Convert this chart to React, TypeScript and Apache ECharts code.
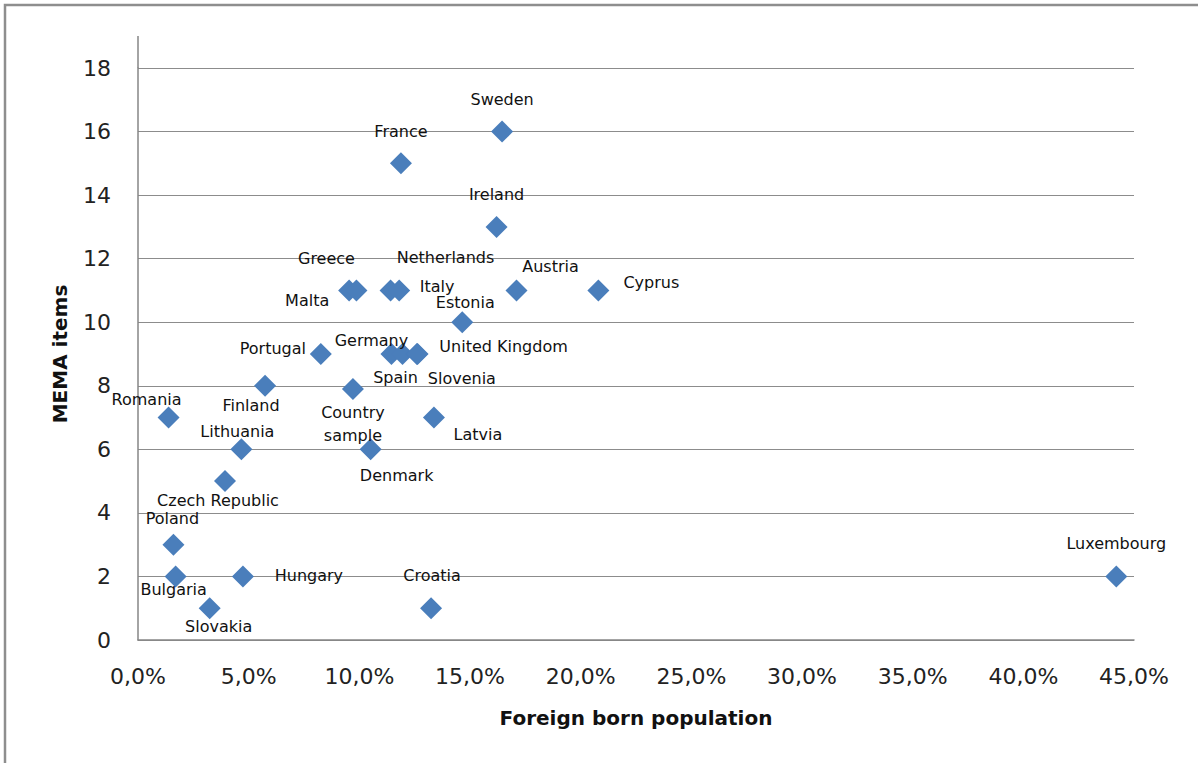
import React, { useEffect, useRef } from "react";
import * as echarts from "echarts";

const countries = [
  "Sweden", "France", "Ireland", "Malta", "Greece", "Netherlands", "Italy",
  "Austria", "Cyprus", "Estonia", "Portugal", "Germany", "Spain", "Slovenia",
  "United Kingdom", "Finland", "Country\nsample", "Romania", "Latvia",
  "Lithuania", "Denmark", "Czech Republic", "Poland", "Bulgaria", "Hungary",
  "Slovakia", "Croatia", "Luxembourg",
];
const foreignBorn = [
  16.45, 11.88, 16.2, 9.54, 9.87, 11.41, 11.8,
  17.1, 20.8, 14.65, 8.26, 11.45, 11.95, 12.6,
  12.63, 5.74, 9.71, 1.38, 13.37,
  4.67, 10.51, 3.93, 1.6, 1.7, 4.74,
  3.24, 13.24, 44.2,
];
const memaItems = [
  16, 15, 13, 11, 11, 11, 11,
  11, 11, 10, 9, 9, 9, 9,
  9, 8, 7.9, 7, 7,
  6, 6, 5, 3, 2, 2,
  1, 1, 2,
];
// label placement relative to each marker (layout only)
const labelOffsets: [number, number][] = [
  [0, -32], [0, -32], [0, -32], [-42, 10], [-30, -32], [55, -33], [38, -4],
  [34, -24], [53, -8], [3, -20], [-48, -6], [-20, -14], [-7, 23], [45, 24],
  [86, -8], [-14, 20], [0, 35], [-22, -18], [44, 17],
  [-4, -18], [26, 26], [-7, 19], [-1, -26], [-2, 13], [66, -1],
  [9, 18], [1, -33], [0, -33],
];
const xTicks = { min: 0, max: 45, interval: 5 };
const yTicks = { min: 0, max: 18, interval: 2 };

export default function App() {
  const ref = useRef<HTMLDivElement>(null);
  useEffect(() => {
    if (!ref.current) return;
    const chart = echarts.init(ref.current, null, { renderer: "svg" });
    const data = countries.map((n, i) => ({
      name: n,
      value: [foreignBorn[i], memaItems[i]],
    }));
    const gridLeft = 138, gridTop = 68, gridRight = 64, gridBottom = 123;
    chart.setOption({
      animation: false,
      backgroundColor: "#ffffff",
      grid: { left: gridLeft, top: gridTop, right: gridRight, bottom: gridBottom, containLabel: false },
      xAxis: {
        type: "value",
        min: xTicks.min,
        max: xTicks.max,
        interval: xTicks.interval,
        name: "Foreign born population",
        nameLocation: "middle",
        nameGap: 68,
        nameTextStyle: { fontFamily: "DejaVu Sans", fontWeight: "bold", fontSize: 20, color: "#111" },
        axisLine: { show: true, lineStyle: { color: "#868686", width: 1.5 } },
        axisTick: { show: false },
        splitLine: { show: false },
        axisLabel: {
          margin: 25,
          fontFamily: "DejaVu Sans",
          fontSize: 22,
          color: "#222",
          formatter: (v: number) => v.toFixed(1).replace(".", ",") + "%",
        },
      },
      yAxis: {
        type: "value",
        min: yTicks.min,
        max: yTicks.max,
        interval: yTicks.interval,
        name: "MEMA items",
        nameLocation: "middle",
        nameGap: 68,
        nameTextStyle: { fontFamily: "DejaVu Sans", fontWeight: "bold", fontSize: 20, color: "#111" },
        axisLine: { show: true, lineStyle: { color: "#868686", width: 1.5 } },
        axisTick: { show: false },
        splitLine: { show: true, lineStyle: { color: "#8c8c8c", width: 1.2 } },
        axisLabel: { margin: 27, fontFamily: "DejaVu Sans", fontSize: 22, color: "#222" },
      },
      graphic: [
        {
          type: "rect",
          shape: { x: 5, y: 5, width: 1300, height: 900 },
          style: { fill: "none", stroke: "#8e8e8e", lineWidth: 2.5 },
          silent: true,
        },
        {
          type: "line",
          shape: { x1: gridLeft, y1: 36, x2: gridLeft, y2: gridTop },
          style: { stroke: "#868686", lineWidth: 1.5 },
          silent: true,
        },
      ],
      series: [
        {
          type: "scatter",
          symbol: "diamond",
          symbolSize: 22,
          itemStyle: { color: "#4a7ebb", opacity: 1 },
          data,
          label: {
            show: true,
            position: "inside",
            formatter: (p: any) => p.name,
            fontFamily: "DejaVu Sans",
            fontSize: 16,
            lineHeight: 23,
            color: "#111",
            align: "center",
            verticalAlign: "middle",
          },
          labelLayout: (p: any) => ({
            dx: labelOffsets[p.dataIndex][0],
            dy: labelOffsets[p.dataIndex][1],
            hideOverlap: false,
          }),
        },
      ],
    });
    return () => chart.dispose();
  }, []);
  return (
    <div
      ref={ref}
      style={{ position: "fixed", left: 0, top: 0, width: 1198, height: 763, background: "#fff" }}
    />
  );
}
